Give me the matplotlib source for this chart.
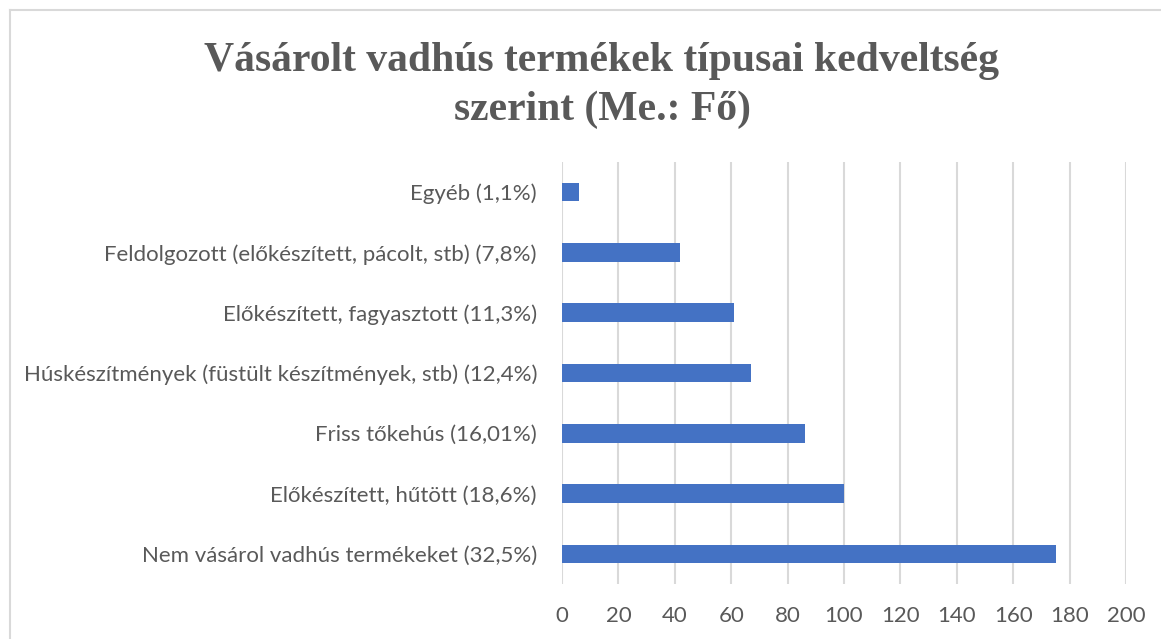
import matplotlib
matplotlib.use("Agg")
import matplotlib.pyplot as plt
from matplotlib.lines import Line2D

categories = [
    "Egyéb (1,1%)",
    "Feldolgozott (előkészített, pácolt, stb) (7,8%)",
    "Előkészített, fagyasztott (11,3%)",
    "Húskészítmények (füstült készítmények, stb) (12,4%)",
    "Friss tőkehús (16,01%)",
    "Előkészített, hűtött (18,6%)",
    "Nem vásárol vadhús termékeket (32,5%)",
]
values = [6, 42, 61, 67, 86, 100, 175]
xticks = [0, 20, 40, 60, 80, 100, 120, 140, 160, 180, 200]
title_lines = ["Vásárolt vadhús termékek típusai kedveltség", "szerint (Me.: Fő)"]

TEXT = "#595959"
GRID = "#D9D9D9"
BAR = "#4472C4"

W, H = 1161, 639
fig = plt.figure(figsize=(W / 100, H / 100), dpi=100)
fig.patch.set_facecolor("white")

ax = fig.add_axes([562 / W, 1 - 584 / H, (1126 - 562) / W, (584 - 162) / H])
pos = list(range(len(categories)))
ax.barh(pos, values, height=0.31, color=BAR, zorder=3)
ax.set_ylim(len(categories) - 0.5, -0.5)
ax.set_xlim(0, 200)
ax.set_xticks(xticks)
ax.set_xticklabels([str(t) for t in xticks])
ax.set_yticks(pos)
ax.set_yticklabels(categories)
for s in ax.spines.values():
    s.set_visible(False)
ax.grid(axis="x", color=GRID, linewidth=1.5, zorder=0)
ax.tick_params(axis="both", length=0, colors=TEXT, labelsize=16)
ax.tick_params(axis="y", pad=18)
ax.tick_params(axis="x", pad=16)
for lab in ax.get_xticklabels() + ax.get_yticklabels():
    lab.set_fontfamily("Lato")
    lab.set_color(TEXT)

for line, base in zip(title_lines, [71, 120]):
    fig.text(602 / W, 1 - base / H, line, ha="center", va="baseline",
             fontsize=30, fontweight="bold", family="Liberation Serif",
             color=TEXT)

# chart-area frame (top and left edges visible)
fig.add_artist(Line2D([9.5 / W, 1], [1 - 9.5 / H, 1 - 9.5 / H], color=GRID,
                      linewidth=1.5, transform=fig.transFigure))
fig.add_artist(Line2D([9.5 / W, 9.5 / W], [0, 1 - 9.5 / H], color=GRID,
                      linewidth=1.5, transform=fig.transFigure))

fig.savefig("out.png", dpi=100)
